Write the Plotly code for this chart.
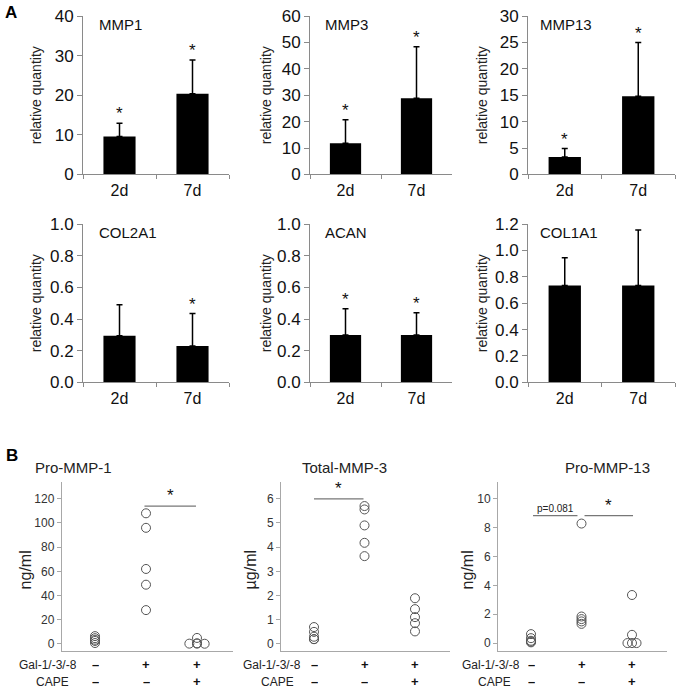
import plotly.graph_objects as go

W, H = 676, 695
FONT = "Liberation Sans, Arial, sans-serif"

# ---------------- Panel A data (qPCR, relative quantity) ----------------
days = ["2d", "7d"]
a_genes = ["MMP1", "MMP3", "MMP13", "COL2A1", "ACAN", "COL1A1"]
mmp1_mean = [9.6, 20.4]
mmp1_err = [3.3, 8.5]
mmp1_sig = [True, True]
mmp3_mean = [11.8, 28.9]
mmp3_err = [8.9, 19.5]
mmp3_sig = [True, True]
mmp13_mean = [3.3, 14.8]
mmp13_err = [1.6, 10.2]
mmp13_sig = [True, True]
col2a1_mean = [0.295, 0.23]
col2a1_err = [0.195, 0.205]
col2a1_sig = [False, True]
acan_mean = [0.30, 0.30]
acan_err = [0.165, 0.14]
acan_sig = [True, True]
col1a1_mean = [0.735, 0.735]
col1a1_err = [0.21, 0.42]
col1a1_sig = [False, False]
a_ymax = [40, 60, 30, 1.0, 1.0, 1.2]
a_dtick = [10, 10, 5, 0.2, 0.2, 0.2]

# ---------------- Panel B data (ELISA dot plots) ----------------
b_titles = ["Pro-MMP-1", "Total-MMP-3", "Pro-MMP-13"]
b_units = ["ng/ml", "µg/ml", "ng/ml"]
gal_signs = ["–", "+", "+"]
cape_signs = ["–", "–", "+"]
pro_mmp1 = [[0.8, 2.5, 3.5, 4.8, 6.5],
            [108, 96, 62, 49, 28],
            [0.3, 0.5, 0.2, 5.0, 0.4]]
pro_mmp1_jit = [[0, 0, 0, 0, 0], [0, 0, 0, 0, 0], [-0.15, 0, 0.15, 0, 0]]
total_mmp3 = [[0.7, 0.5, 0.3, 0.2, 0.2],
              [5.7, 5.56, 4.9, 4.18, 3.63],
              [1.89, 1.44, 1.11, 0.86, 0.52]]
total_mmp3_jit = [[0, 0, 0, 0, 0], [0, 0, 0, 0, 0], [0, 0, 0, 0, 0]]
pro_mmp13 = [[0.62, 0.34, 0.16, 0.05, 0.1],
             [8.28, 1.84, 1.66, 1.5, 1.33],
             [3.33, 0.57, 0.0, 0.0, 0.0]]
pro_mmp13_jit = [[0, 0, 0, 0, 0], [0, 0, 0, 0, 0], [0, 0, -0.09, 0, 0.09]]
b_yrange = [[-5.8, 134], [-0.29, 6.7], [-0.55, 11.17]]
b_dtick = [20, 1, 2]
# brackets: (x0, x1, y, label)
pro_mmp1_br = [(0.97, 1.98, 114, "*")]
total_mmp3_br = [(0.0, 0.98, 6.0, "*")]
pro_mmp13_br = [(0.04, 0.92, 8.83, "p=0.081"), (1.06, 2.02, 8.83, "*")]

# the photographed page maps figure y -> 7.8 + 0.9775*y; place items so they land
# where the reference shows them
Y_OFF, Y_SCL = 7.8, 0.9775


def fx(px):
    return px / W


def fy(py):
    return 1 - ((py - Y_OFF) / Y_SCL) / H


fig = go.Figure()
annotations = []
shapes = []

# ---------- Panel A layout ----------
a_means = [mmp1_mean, mmp3_mean, mmp13_mean, col2a1_mean, acan_mean, col1a1_mean]
a_errs = [mmp1_err, mmp3_err, mmp13_err, col2a1_err, acan_err, col1a1_err]
a_sigs = [mmp1_sig, mmp3_sig, mmp13_sig, col2a1_sig, acan_sig, col1a1_sig]
a_xdom = [(83, 229), (310, 452), (528, 675)]
a_ydom = [(15, 174), (224, 383)]
a_title_x = [97, 323, 538]
a_ytitle_x = [36, 266, 482]

for i in range(6):
    r, c = divmod(i, 3)
    n = i + 1
    xa = "x" if n == 1 else f"x{n}"
    ya = "y" if n == 1 else f"y{n}"
    fig.add_trace(go.Bar(
        x=days, y=a_means[i], width=0.44,
        marker=dict(color="black", line=dict(width=0)),
        error_y=dict(type="data", array=a_errs[i], arrayminus=[0, 0], symmetric=False,
                     color="black", thickness=1.5, width=3),
        xaxis=xa, yaxis=ya, showlegend=False))
    x0, x1 = a_xdom[c]
    y0, y1 = a_ydom[r]
    xkey = "xaxis" if n == 1 else f"xaxis{n}"
    ykey = "yaxis" if n == 1 else f"yaxis{n}"
    fig.layout[xkey] = dict(
        domain=[fx(x0), fx(x1)], anchor=ya, type="category",
        showline=True, linecolor="#8a8a8a", linewidth=1,
        ticks="outside", tickson="boundaries", ticklen=4, tickcolor="#8a8a8a",
        ticklabelstandoff=1,
        tickfont=dict(family=FONT, size=16, color="#111"), showgrid=False,
        range=[-0.5, 1.5], fixedrange=True)
    fig.layout[ykey] = dict(
        domain=[fy(y1), fy(y0)], anchor=xa, range=[0, a_ymax[i]], dtick=a_dtick[i],
        tick0=0, showline=True, linecolor="#8a8a8a", linewidth=1,
        ticks="outside", ticklen=5, tickcolor="#8a8a8a",
        tickformat=".1f" if a_ymax[i] <= 2 else "d",
        tickfont=dict(family=FONT, size=17, color="#111"),
        showgrid=False, zeroline=False, fixedrange=True)
    # gene label
    annotations.append(dict(
        x=fx(a_title_x[c]), y=fy(y0 + 8),
        xref="paper", yref="paper", text=a_genes[i], showarrow=False,
        xanchor="left", yanchor="middle", font=dict(family=FONT, size=15, color="#111")))
    # y title
    annotations.append(dict(
        x=fx(a_ytitle_x[c]), y=fy((y0 + y1) / 2), xref="paper", yref="paper",
        text="relative quantity", textangle=-90, showarrow=False,
        xanchor="center", yanchor="middle", font=dict(family=FONT, size=14, color="#222")))
    # stars
    for k, d in enumerate(days):
        if a_sigs[i][k]:
            annotations.append(dict(
                x=d, y=a_means[i][k] + a_errs[i][k], xref=xa, yref=ya, text="*",
                showarrow=False, xanchor="center", yanchor="bottom", yshift=-2,
                font=dict(family=FONT, size=17, color="#111")))

annotations.append(dict(x=fx(3), y=fy(11), xref="paper", yref="paper", text="<b>A</b>",
                        showarrow=False, xanchor="left", yanchor="middle",
                        font=dict(family=FONT, size=17, color="black")))
annotations.append(dict(x=fx(4), y=fy(457), xref="paper", yref="paper", text="<b>B</b>",
                        showarrow=False, xanchor="left", yanchor="middle",
                        font=dict(family=FONT, size=17, color="black")))

# ---------- Panel B ----------
b_data = [pro_mmp1, total_mmp3, pro_mmp13]
b_jit = [pro_mmp1_jit, total_mmp3_jit, pro_mmp13_jit]
b_br = [pro_mmp1_br, total_mmp3_br, pro_mmp13_br]
b_x0 = [95, 314, 531]          # pixel position of first group
b_unit = [51, 50.5, 50.5]
b_xr = [-0.65, 2.7]
b_ydom = (483, 653)
b_title_x = [73, 344, 607]
b_ytitle_x = [25, 250, 467]
b_gal_right = [78, 302, 521]
b_cape_right = [70, 295, 512]
gal_row_y, cape_row_y = 667, 684

for j in range(3):
    n = 7 + j
    xa, ya = f"x{n}", f"y{n}"
    xs, ys = [], []
    for g in range(3):
        for v, jt in zip(b_data[j][g], b_jit[j][g]):
            xs.append(g + jt)
            ys.append(v)
    fig.add_trace(go.Scatter(
        x=xs, y=ys, mode="markers",
        marker=dict(symbol="circle-open", size=9, color="#555", line=dict(width=1, color="#555")),
        xaxis=xa, yaxis=ya, showlegend=False))
    left = b_x0[j] + b_xr[0] * b_unit[j]
    right = b_x0[j] + b_xr[1] * b_unit[j]
    fig.layout[f"xaxis{n}"] = dict(
        domain=[fx(left), fx(right)], anchor=ya, range=b_xr, showline=True,
        linecolor="#a8a8a8", linewidth=1.2, ticks="", showticklabels=False,
        showgrid=False, zeroline=False, fixedrange=True)
    fig.layout[f"yaxis{n}"] = dict(
        domain=[fy(b_ydom[1]), fy(b_ydom[0])], anchor=xa, range=b_yrange[j],
        dtick=b_dtick[j], tick0=0, showline=True, linecolor="#a8a8a8", linewidth=1.2,
        ticks="outside", ticklen=4, tickcolor="#a8a8a8",
        tickfont=dict(family=FONT, size=12, color="#333"),
        showgrid=False, zeroline=False, fixedrange=True)
    annotations.append(dict(
        x=fx(b_title_x[j]), y=fy(469), xref="paper", yref="paper", text=b_titles[j],
        showarrow=False, xanchor="center", yanchor="middle",
        font=dict(family=FONT, size=15, color="#222")))
    annotations.append(dict(
        x=fx(b_ytitle_x[j]), y=fy(572), xref="paper", yref="paper", text=b_units[j],
        textangle=-90, showarrow=False, xanchor="center", yanchor="middle",
        font=dict(family=FONT, size=16, color="#222")))
    for (bx0, bx1, by, lab) in b_br[j]:
        shapes.append(dict(type="line", xref=xa, yref=ya, x0=bx0, x1=bx1, y0=by, y1=by,
                           line=dict(color="#777", width=1.2)))
        if lab == "*":
            annotations.append(dict(
                x=(bx0 + bx1) / 2, y=by, xref=xa, yref=ya, text="*", showarrow=False,
                xanchor="center", yanchor="bottom", yshift=-1,
                font=dict(family=FONT, size=17, color="#111")))
        else:
            annotations.append(dict(
                x=(bx0 + bx1) / 2, y=by, xref=xa, yref=ya, text=lab, showarrow=False,
                xanchor="center", yanchor="bottom", yshift=0,
                font=dict(family=FONT, size=10, color="#222")))
    for g in range(3):
        annotations.append(dict(
            x=g, y=fy(gal_row_y), xref=xa, yref="paper", text="<b>" + gal_signs[g] + "</b>",
            showarrow=False, xanchor="center", yanchor="middle", height=13, borderpad=0,
            font=dict(family=FONT, size=13, color="#111")))
        annotations.append(dict(
            x=g, y=fy(cape_row_y), xref=xa, yref="paper", text="<b>" + cape_signs[g] + "</b>",
            showarrow=False, xanchor="center", yanchor="middle", height=13, borderpad=0,
            font=dict(family=FONT, size=13, color="#111")))
    annotations.append(dict(
        x=fx(b_gal_right[j]), y=fy(gal_row_y), xref="paper", yref="paper", text="Gal-1/-3/-8",
        showarrow=False, xanchor="right", yanchor="middle", height=13, borderpad=0,
        font=dict(family=FONT, size=12, color="#222")))
    annotations.append(dict(
        x=fx(b_cape_right[j]), y=fy(cape_row_y), xref="paper", yref="paper", text="CAPE",
        showarrow=False, xanchor="right", yanchor="middle", height=13, borderpad=0,
        font=dict(family=FONT, size=12, color="#222")))

fig.update_layout(
    width=W, height=H, margin=dict(l=0, r=0, t=0, b=0),
    paper_bgcolor="white", plot_bgcolor="white",
    annotations=annotations, shapes=shapes, bargap=0.5,
    font=dict(family=FONT))

fig.write_html("out.html", config={"displayModeBar": False},
               post_script="document.body.style.margin='0';document.body.style.overflow='hidden';")
